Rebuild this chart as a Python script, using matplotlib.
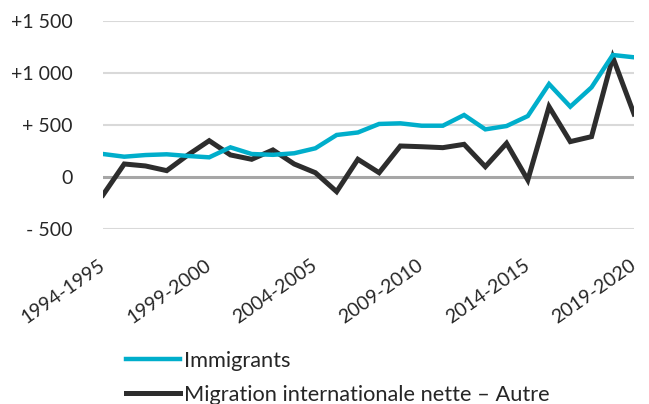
import matplotlib
matplotlib.use("Agg")
import matplotlib.pyplot as plt

plt.rcParams['font.family'] = ['Lato', 'DejaVu Sans']

years = [f"{y}-{y+1}" for y in range(1994, 2020)]
immigrants = [218, 192, 208, 215, 199, 186, 282, 218, 210, 225, 273, 401, 425, 507,
              513, 490, 490, 593, 455, 487, 583, 891, 673, 859, 1170, 1148]
migration_autre = [-176, 122, 103, 58, 209, 346, 209, 167, 257, 122, 38, -144, 167, 38,
                   295, 288, 279, 311, 96, 321, -32, 673, 337, 385, 1148, 603]
yticks = [-500, 0, 500, 1000, 1500]
ytick_labels = ["- 500", "0", "+ 500", "+1 000", "+1 500"]
xtick_idx = [0, 5, 10, 15, 20, 25]

fig = plt.figure(figsize=(6.49, 4.04), dpi=100)
ax = fig.add_axes([0.1587, 0.434, 0.9769 - 0.1587, 0.9488 - 0.434])

x = list(range(len(years)))
for v in yticks:
    if v == 0:
        continue
    ax.axhline(v, color='#D9D9D9', lw=1.5, zorder=0)
ax.axhline(0, color='#A6A6A6', lw=2.2, zorder=1)

ax.plot(x, immigrants, color='#00AECB', lw=3.2, label='Immigrants', zorder=3,
        solid_joinstyle='miter')
ax.plot(x, migration_autre, color='#2D2D2D', lw=3.6,
        label='Migration internationale nette – Autre', zorder=2, solid_joinstyle='miter')

ax.set_xlim(0, 25)
ax.set_ylim(-500, 1500)
ax.set_yticks(yticks)
ax.set_yticklabels(ytick_labels, fontsize=14, color='#262626')
ax.set_xticks(xtick_idx)
ax.set_xticklabels([years[i] for i in xtick_idx], fontsize=14, color='#262626',
                   rotation=35, ha='right', va='center', rotation_mode='anchor')
ax.tick_params(axis='both', length=0)
ax.tick_params(axis='y', pad=22)
ax.tick_params(axis='x', pad=25)
for s in ax.spines.values():
    s.set_visible(False)

leg = fig.legend(loc='upper left', frameon=False,
                 fontsize=15.7, handlelength=2.5, handletextpad=0.18, labelspacing=0.62,
                 borderaxespad=0, borderpad=0)
for t in leg.get_texts():
    t.set_color('#262626')
leg.set_bbox_to_anchor((0.194, 0.131), transform=fig.transFigure)

fig.savefig('out.png', dpi=100)
